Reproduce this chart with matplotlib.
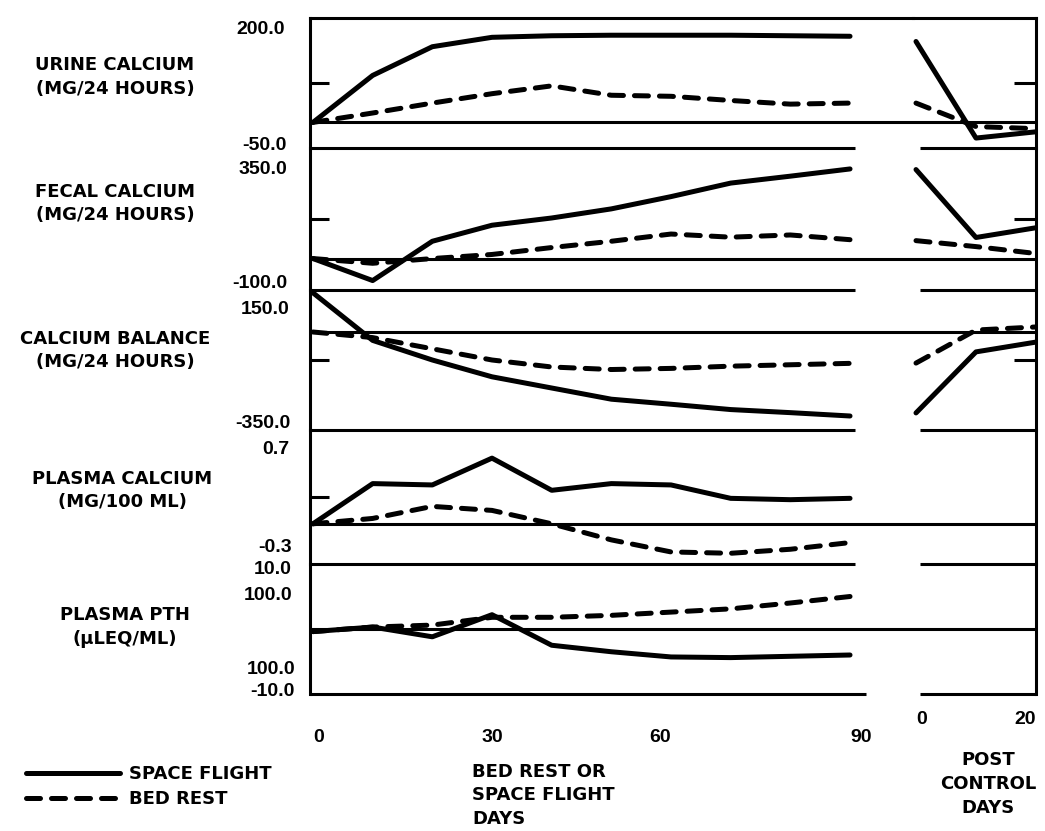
import matplotlib
matplotlib.use("Agg")
import matplotlib.pyplot as plt

plt.rcParams['font.family'] = ['DejaVu Sans']
plt.rcParams['font.weight'] = 'bold'

W, H, DPI = 1045, 831, 100

# ---------------- data ----------------
days = [0, 10, 20, 30, 40, 50, 60, 70, 80, 90]
post_days = [0, 10, 20]

row_titles = [("URINE CALCIUM", "(MG/24 HOURS)"),
              ("FECAL CALCIUM", "(MG/24 HOURS)"),
              ("CALCIUM BALANCE", "(MG/24 HOURS)"),
              ("PLASMA CALCIUM", "(MG/100 ML)"),
              ("PLASMA PTH", "(\u03bcLEQ/ML)")]
y_ranges = [(-50, 200), (-100, 350), (-350, 150), (-0.3, 0.7), (-10, 10)]
main_ticks = [75, 125, -100, 0.2, None]
post_ticks = [75, 125, -100, None, None]

flight = [
    [0, 90, 145, 163, 166, 167, 167, 167, 166, 165],          # urine
    [0, -70, 55, 106, 129, 158, 197, 240, 262, 285],          # fecal
    [140, -30, -100, -160, -200, -240, -258, -277, -288, -300],  # balance
    [0, 0.30, 0.29, 0.49, 0.25, 0.30, 0.29, 0.19, 0.18, 0.19],  # plasma Ca
    [-0.4, 0.3, -1.2, 2.2, -2.5, -3.5, -4.3, -4.4, -4.2, -4.0],  # PTH
]
bedrest = [
    [0, 18, 37, 55, 70, 52, 50, 42, 35, 37],
    [0, -15, 0, 13, 35, 55, 78, 68, 75, 60],
    [0, -20, -60, -100, -125, -134, -130, -122, -117, -112],
    [0, 0.04, 0.13, 0.10, 0.0, -0.12, -0.21, -0.22, -0.19, -0.14],
    [-0.4, 0.3, 0.6, 1.8, 1.8, 2.1, 2.6, 3.1, 4.0, 5.0],
]
flight_post = [[155, -30, -18], [283, 67, 98], [-289, -71, -36], None, None]
bedrest_post = [[37, -8, -12], [57, 38, 16], [-111, 7, 18], None, None]

x_ticks_main = [0, 30, 60, 90]
x_ticks_main_ha = ['left', 'center', 'right', 'left']
x_ticks_post = [0, 20]
x_ticks_post_ha = ['left', 'right']

# ---------------- layout (pixels) ----------------
edges = [18, 148.5, 290, 430, 564, 694]
X_MAIN_L, X_SPLIT, X_POST_R = 310, 913, 1036
MAIN_XLIM = (-0.5, (X_SPLIT - 313) / 5.967)
POST_XLIM = (-0.5, 20)

LW_FRAME = 2.2
LW_DATA = 3.6
DASH = (0, (2.8, 2.2))

# text positions (pixels)
title_pos = [(115, 65, 89), (115, 192, 215), (115, 339, 362), (122, 479, 502), (125, 615, 639)]
value_label_pos = [  # (text, right x, y)
    ("200.0", 285, 30), ("-50.0", 287, 145),
    ("350.0", 287, 169), ("-100.0", 287, 284),
    ("150.0", 289, 309), ("-350.0", 291, 424),
    ("0.7", 289, 449), ("-0.3", 292, 547),
    ("10.0", 292, 570), ("100.0", 292, 595),
    ("100.0", 295, 669), ("-10.0", 295, 692),
]


def fx(p):
    return p / W


def fy(p):
    return 1 - p / H


fig = plt.figure(figsize=(W / DPI, H / DPI), dpi=DPI)

handles = None
for i in range(5):
    top, bot = edges[i], edges[i + 1]
    ylo, yhi = y_ranges[i]
    axm = fig.add_axes([fx(X_MAIN_L), fy(bot), fx(X_SPLIT - X_MAIN_L), (bot - top) / H])
    axp = fig.add_axes([fx(X_SPLIT), fy(bot), fx(X_POST_R - X_SPLIT), (bot - top) / H])
    for ax, xl in ((axm, MAIN_XLIM), (axp, POST_XLIM)):
        ax.set_xlim(*xl)
        ax.set_ylim(ylo, yhi)
        ax.patch.set_alpha(0)
        for s in ax.spines.values():
            s.set_visible(False)
            s.set_linewidth(LW_FRAME)
        ax.axhline(0, color='black', lw=LW_FRAME, zorder=1)
        ax.set_xticks([])
        ax.set_yticks([])
    axm.spines['left'].set_visible(True)
    axp.spines['right'].set_visible(True)
    if i == 0:
        axm.spines['top'].set_visible(True)
        axp.spines['top'].set_visible(True)

    # inner ticks
    if main_ticks[i] is not None:
        axm.set_yticks([main_ticks[i]])
        axm.tick_params(axis='y', direction='in', length=14, width=LW_FRAME,
                        left=True, right=False, labelleft=False)
    if post_ticks[i] is not None:
        axp.set_yticks([post_ticks[i]])
        axp.tick_params(axis='y', direction='in', length=16, width=LW_FRAME,
                        left=False, right=True, labelleft=False, labelright=False)

    # separators at the bottom of each panel
    main_end = 92.7 if i == 4 else 90.8
    axm.hlines(ylo, MAIN_XLIM[0], main_end, color='black', lw=LW_FRAME, clip_on=False)
    axp.hlines(ylo, 0.6, POST_XLIM[1], color='black', lw=LW_FRAME, clip_on=False)

    # data
    l1, = axm.plot(days, flight[i], color='black', lw=LW_DATA,
                   solid_capstyle='round', solid_joinstyle='round', zorder=3)
    l2, = axm.plot(days, bedrest[i], color='black', lw=LW_DATA, linestyle=DASH,
                   dash_capstyle='round', zorder=3)
    if flight_post[i] is not None:
        axp.plot(post_days, flight_post[i], color='black', lw=LW_DATA,
                 solid_capstyle='round', solid_joinstyle='round', zorder=3)
        axp.plot(post_days, bedrest_post[i], color='black', lw=LW_DATA, linestyle=DASH,
                 dash_capstyle='round', zorder=3)
    if handles is None:
        handles = (l1, l2)

    if i == 4:
        axm.set_xticks(x_ticks_main)
        axm.set_xticklabels([str(v) for v in x_ticks_main])
        axm.tick_params(axis='x', length=0, pad=25, labelsize=14)
        axp.set_xticks(x_ticks_post)
        axp.set_xticklabels([str(v) for v in x_ticks_post])
        axp.tick_params(axis='x', length=0, pad=12, labelsize=14)
        for lab, ha in zip(axm.get_xticklabels(), x_ticks_main_ha):
            lab.set_ha(ha)
        for lab, ha in zip(axp.get_xticklabels(), x_ticks_post_ha):
            lab.set_ha(ha)
        for lab in axm.get_xticklabels() + axp.get_xticklabels():
            lab.set_fontfamily('Liberation Sans')
            lab.set_fontweight('bold')

    # row titles
    xc, y1, y2 = title_pos[i]
    t1, t2 = row_titles[i]
    fig.text(fx(xc), fy(y1), t1, ha='center', va='center', fontsize=13)
    fig.text(fx(xc), fy(y2), t2, ha='center', va='center', fontsize=13)

# y value labels
for s, xr, yc in value_label_pos:
    fig.text(fx(xr), fy(yc), s, ha='right', va='center', fontsize=14,
             family='Liberation Sans', fontweight='bold')

# axis titles below
for k, s in enumerate(["BED REST OR", "SPACE FLIGHT", "DAYS"]):
    fig.text(fx(472), fy(772 + 23.5 * k), s, ha='left', va='center', fontsize=13)
for k, s in enumerate(["POST", "CONTROL", "DAYS"]):
    fig.text(fx(988), fy(760 + 24 * k), s, ha='center', va='center', fontsize=13)

# legend
fig.legend(handles, ["SPACE FLIGHT", "BED REST"], loc='upper left',
           bbox_to_anchor=(fx(26), fy(765)), frameon=False, fontsize=13,
           handlelength=5.2, handletextpad=0.5, labelspacing=0.4,
           borderpad=0, borderaxespad=0)

fig.savefig("out.png", dpi=DPI)
